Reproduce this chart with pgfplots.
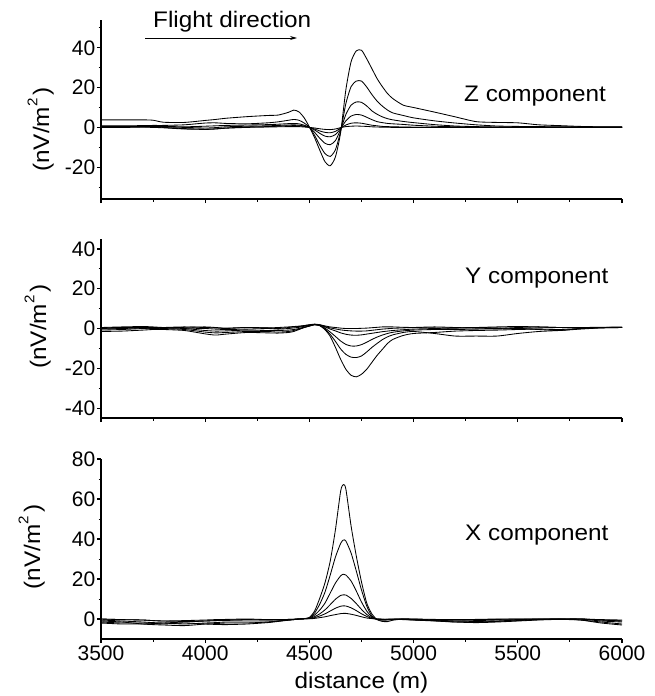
\documentclass[border=0pt]{standalone}
\usepackage{fontspec}
\setmainfont{Liberation Sans}
\newfontfamily\lblfont[FakeStretch=1.08]{Liberation Sans}
\usepackage{pgfplots}
\usepackage{pgfplotstable}
\pgfplotsset{compat=1.18}
\usetikzlibrary{arrows.meta}

\pgfplotstableread{
x     c1     c2     c3     c4     c5     c6
3500  3.8    0.8    0.3    0.5    0.2    0.0
3600  3.8    0.8    0.3    0.5    0.2    0.0
3700  3.8    0.9    0.4    0.5    0.3    0.1
3750  3.6    1.0    0.5    0.4    0.2    0.0
3800  2.6    1.0    0.5    0.3    0.0   -0.2
3900  2.5    1.3    0.3    0.0   -0.6   -0.8
4000  3.5    2.2    0.6   -0.3   -0.9   -1.0
4050  4.0    2.3    0.8   -0.1   -0.7   -0.8
4100  4.6    2.0    1.0    0.3   -0.3   -0.4
4200  5.4    1.8    1.2    0.6    0.2    0.0
4300  6.0    2.3    1.4    0.8    0.4    0.2
4350  6.2    2.8    1.6    1.0    0.6    0.3
4400  7.6    3.6    1.9    1.2    0.8    0.4
4425  8.7    4.0    2.0    1.3    0.9    0.4
4450  7.8    3.6    1.8    1.1    0.8    0.4
4475  4.8    2.2    1.1    0.7    0.5    0.2
4500  0.2    0.1    0.0    0.0    0.0    0.0
4525 -5.2   -4.0   -2.5   -1.3   -0.8   -0.3
4550 -11.5  -9.0   -5.5   -3.0   -1.8   -0.7
4575 -17.3  -13.2  -8.0   -4.4   -2.5   -1.0
4600 -19.3  -14.6  -8.7   -4.7   -2.7   -1.1
4625 -14.8  -11.2  -6.6   -3.6   -2.0   -0.8
4650 -2.5   -1.8   -1.0   -0.6   -0.3   -0.1
4675  19.0   12.0   6.5    3.3    1.2    0.4
4700  33.0   20.5   11.2   5.7    2.1    0.6
4725  38.5   23.3   12.8   6.5    2.3    0.7
4750  38.8   23.3   12.6   6.2    2.1    0.6
4775  34.5   20.3   10.8   5.1    1.6    0.5
4800  29.5   16.5   8.3    3.9    1.1    0.3
4825  24.5   13.2   6.6    2.9    0.8    0.2
4850  20.5   10.7   5.3    2.4    0.5    0.1
4875  17.0   8.7    4.4    2.0    0.4    0.1
4900  14.5   7.3    3.8    1.8    0.3    0.0
4950  11.2   6.0    3.0    1.5    0.2    0.0
5000  10.0   4.8    2.4    1.1    0.1    0.0
5100  7.7    3.3    1.4    0.6    0.1    0.0
5200  5.3    2.2    0.7    0.3    0.0    0.0
5300  2.9    1.3    0.4    0.1    0.0    0.0
5400  2.5    0.7    0.2    0.1    0.0    0.0
5500  2.3    0.5    0.2    0.1    0.0    0.0
5600  1.3    0.4    0.1    0.0    0.0    0.0
5700  0.9    0.3    0.1    0.0    0.0    0.0
5800  0.5    0.3    0.1    0.0    0.0    0.0
5900  0.3    0.2    0.1    0.0    0.0    0.0
6000  0.3    0.2    0.1    0.0    0.0    0.0
}\zdata

\pgfplotstableread{
x     c1     c2     c3     c4     c5     c6
3500 -1.5   -0.8    0.0    0.5   -0.3    0.3
3600 -1.3   -0.5    0.3    0.8    0.0    0.5
3700 -0.8    0.0    0.5    1.0    0.3    0.3
3750 -0.5    0.2    0.5    0.8    0.3    0.0
3800 -0.5    0.0    0.3    0.5    0.5    0.2
3900 -1.0   -0.5    0.0    0.2    0.8    0.6
4000 -2.7   -1.8   -1.0    0.0    0.5    0.8
4050 -3.3   -2.2   -1.3   -0.3    0.3    0.5
4100 -2.8   -2.0   -1.2   -0.5    0.0    0.2
4200 -2.0   -1.5   -0.8   -0.3    0.5    0.5
4300 -2.2   -1.5   -1.0    0.0    0.3    0.3
4350 -2.3   -1.8   -1.0   -0.3    0.0    0.5
4400 -2.0   -1.5   -0.8    0.0    0.5    0.8
4425 -1.5   -1.0   -0.5    0.3    0.8    1.0
4450 -0.5   -0.3    0.0    0.6    1.0    1.2
4475  0.5    0.5    0.7    1.1    1.4    1.5
4500  1.3    1.2    1.3    1.6    1.8    1.9
4525  2.0    1.9    1.9    2.0    2.1    2.2
4550  1.4    1.5    1.5    1.7    1.8    1.9
4575 -0.6   -0.3    0.2    0.8    1.0    1.3
4600 -4.0   -3.0   -1.8   -0.3    0.3    0.8
4625 -9.5   -6.5   -4.0   -1.2   -0.2    0.5
4650 -15.5  -10.3  -6.3   -2.2   -0.7    0.2
4675 -20.5  -13.0  -8.0   -2.9   -1.0    0.0
4700 -23.5  -14.4  -8.8   -3.3   -1.2    0.0
4725 -24.3  -14.6  -8.8   -3.4   -1.3    0.0
4750 -23.0  -13.8  -8.1   -3.2   -1.3    0.1
4775 -20.5  -11.8  -6.9   -2.8   -1.2    0.2
4800 -17.0  -9.5   -5.5   -2.4   -0.9    0.4
4825 -13.5  -7.5   -4.3   -2.0   -0.6    0.6
4850 -10.5  -5.6   -3.3   -1.6   -0.3    0.8
4875 -7.5   -4.2   -2.5   -1.3   -0.1    0.8
4900 -5.5   -3.2   -1.9   -1.0    0.1    0.8
4950 -3.5   -2.0   -1.2   -0.6    0.3    0.6
5000 -2.5   -1.5   -0.8   -0.3    0.5    0.5
5100 -2.0   -2.5   -0.5    0.0    0.8    0.3
5200 -1.3   -3.8   -0.5    0.3    0.5    0.2
5300 -1.0   -3.8   -0.3    0.5    0.2    0.5
5400 -0.8   -3.8   -0.2    0.3    0.0    0.8
5500 -0.5   -2.5    0.0    0.0    0.5    1.0
5600 -0.3   -1.5    0.3   -0.5    0.8    0.8
5700 -0.5   -1.0    0.5   -1.0    0.5    0.5
5800  0.0   -0.3    0.5    0.0    0.5    0.3
5900  0.3    0.3    0.5    0.5    0.6    0.5
6000  0.5    0.5    0.6    0.6    0.6    0.6
}\ydata

\pgfplotstableread{
x     c1     c2     c3     c4     c5     c6
3500 -1.0   -0.5    0.0   -1.5   -2.0    0.0
3600 -1.5   -1.0   -0.3   -2.0   -2.5   -0.3
3700 -2.5   -1.5   -0.5   -2.0   -2.5   -0.5
3750 -2.8   -1.8   -0.8   -2.2   -2.3   -0.8
3800 -3.0   -2.0   -1.0   -2.5   -2.0   -1.0
3900 -3.3   -2.5   -1.2   -2.0   -1.5   -0.8
4000 -2.5   -2.0   -1.0   -2.5   -1.0   -0.5
4050 -2.3   -1.8   -0.8   -2.7   -0.8   -0.3
4100 -2.0   -1.5   -0.7   -2.8   -0.5   -0.2
4200 -2.0   -1.5   -0.5   -2.5   -0.3    0.0
4300 -1.5   -1.5   -0.5   -1.8   -0.5   -0.3
4350 -1.0   -1.0   -0.3   -1.2   -0.5   -0.3
4400 -0.5   -0.5   -0.2   -0.6   -0.3   -0.2
4425 -0.3   -0.3   -0.1   -0.3   -0.2   -0.1
4450  0.0    0.0    0.0    0.0    0.0    0.0
4475  0.2    0.2    0.1    0.1    0.1    0.1
4500  0.8    0.6    0.4    0.3    0.2    0.1
4525  4.0    3.0    2.0    1.2    0.7    0.3
4550  10.5   7.5    4.5    2.6    1.5    0.7
4575  18.2   13.5   8.0    4.6    2.6    1.1
4600  29.0   22.0   13.0   7.2    4.0    1.7
4625  44.7   31.0   18.0   9.9    5.4    2.2
4650  64.0   37.8   21.6   11.8   6.4    2.7
4663  67.2   39.5   22.4   12.1   6.6    2.8
4675  65.0   39.0   22.0   12.0   6.5    2.8
4700  46.5   33.0   19.0   10.3   5.6    2.4
4725  31.5   24.0   14.0   7.7    4.2    1.8
4750  18.5   14.5   8.5    4.8    2.6    1.1
4775  8.0    6.5    4.0    2.3    1.3    0.5
4800  2.5    1.5    1.0    0.6    0.3    0.2
4825 -0.3   -0.3   -0.2    0.0    0.0    0.0
4850 -1.2   -0.6   -0.3   -0.2   -0.1   -0.1
4875 -1.3   -0.5   -0.3   -0.2   -0.1   -0.1
4900 -0.6   -0.3   -0.2   -0.1   -0.1    0.0
4950  0.0    0.0   -0.2   -0.3    0.0    0.0
5000  0.0   -0.3   -0.5   -0.5   -0.3    0.0
5100 -0.5   -0.8   -1.0   -0.8   -0.5   -0.2
5200 -1.0   -1.5   -1.5   -1.0   -0.5   -0.3
5300 -1.2   -1.8   -1.5   -0.8   -0.3   -0.2
5400 -1.0   -1.5   -1.2   -0.5   -0.2    0.0
5500 -0.5   -1.0   -0.8   -0.3    0.0    0.0
5600 -0.2   -0.5   -0.3    0.0    0.0    0.0
5700  0.0   -0.2    0.0    0.0    0.0    0.0
5800  0.0   -0.5   -0.5    0.0    0.0    0.0
5900 -0.5   -1.5   -2.0   -1.0   -0.5   -0.3
6000 -1.0   -2.5   -3.0   -1.5   -1.0   -0.5
}\xdata

\pgfplotsset{
  crv/.style={black, line width=0.85pt, no markers, solid, smooth, tension=0.4},
  panel/.style={
    scale only axis, width=521pt,
    xmin=3500, xmax=6000,
    xtick={3500,4000,...,6000},
    minor xtick={3750,4250,...,5750},
    axis x line*=bottom, axis y line*=left,
    tick align=outside,
    major tick length=4pt, minor tick length=2.5pt,
    axis line style={line width=1.1pt},
    every tick/.style={line width=1.1pt, black},
    minor tick style={line width=1pt},
    /pgf/number format/assume math mode=true,
    /pgf/number format/set thousands separator={},
    tick label style={font=\fontsize{21}{21}\selectfont, inner sep=1.5pt},
    clip=false,
  }
}
\newcommand{\unitlbl}{(nV/m\raisebox{0.52em}{\fontsize{14}{14}\selectfont 2}\hspace{3pt})}

\begin{document}
\begin{tikzpicture}[x=1pt,y=1pt]
\path[use as bounding box] (0,0) rectangle (655,-696);

% Z component
\begin{axis}[panel, at={(101pt,-199pt)}, anchor=south west, height=179pt,
  ymin=-36, ymax=54, ytick={-20,0,20,40}, minor ytick={-30,-10,10,30,50},
  xticklabels={}]
  \addplot[crv] table[x=x,y=c6]{\zdata};
  \addplot[crv] table[x=x,y=c5]{\zdata};
  \addplot[crv] table[x=x,y=c4]{\zdata};
  \addplot[crv] table[x=x,y=c3]{\zdata};
  \addplot[crv] table[x=x,y=c2]{\zdata};
  \addplot[crv] table[x=x,y=c1]{\zdata};
\end{axis}

% Y component
\begin{axis}[panel, at={(101pt,-418pt)}, anchor=south west, height=179pt,
  ymin=-45, ymax=45, ytick={-40,-20,0,20,40}, minor ytick={-30,-10,10,30},
  xticklabels={}]
  \addplot[crv] table[x=x,y=c6]{\ydata};
  \addplot[crv] table[x=x,y=c5]{\ydata};
  \addplot[crv] table[x=x,y=c4]{\ydata};
  \addplot[crv] table[x=x,y=c3]{\ydata};
  \addplot[crv] table[x=x,y=c2]{\ydata};
  \addplot[crv] table[x=x,y=c1]{\ydata};
\end{axis}

% X component
\begin{axis}[panel, at={(101pt,-639pt)}, anchor=south west, height=180pt,
  ymin=-10, ymax=80, ytick={0,20,40,60,80}, minor ytick={10,30,50,70},
  xticklabel style={inner sep=2.5pt}]
  \addplot[crv] table[x=x,y=c6]{\xdata};
  \addplot[crv] table[x=x,y=c5]{\xdata};
  \addplot[crv] table[x=x,y=c4]{\xdata};
  \addplot[crv] table[x=x,y=c3]{\xdata};
  \addplot[crv] table[x=x,y=c2]{\xdata};
  \addplot[crv] table[x=x,y=c1]{\xdata};
\end{axis}

\tikzset{lbl/.style={inner sep=0pt, font=\lblfont\fontsize{22.5}{22.5}\selectfont}}
\node[lbl, anchor=base west] at (153,-27.3) {Flight direction};
\draw[line width=0.9pt, -{Stealth[length=7pt,width=4pt]}] (145,-38) -- (297,-38);
\node[lbl, anchor=base west] at (464,-101) {Z component};
\node[lbl, anchor=base west] at (465,-283.3) {Y component};
\node[lbl, anchor=base west] at (465,-540) {X component};
\node[lbl, rotate=90, anchor=base] at (49,-129.5) {\unitlbl};
\node[lbl, rotate=90, anchor=base] at (46,-326.5) {\unitlbl};
\node[lbl, rotate=90, anchor=base] at (40,-547) {\unitlbl};
\node[lbl, anchor=base] at (361.5,-688) {distance (m)};
\end{tikzpicture}
\end{document}
